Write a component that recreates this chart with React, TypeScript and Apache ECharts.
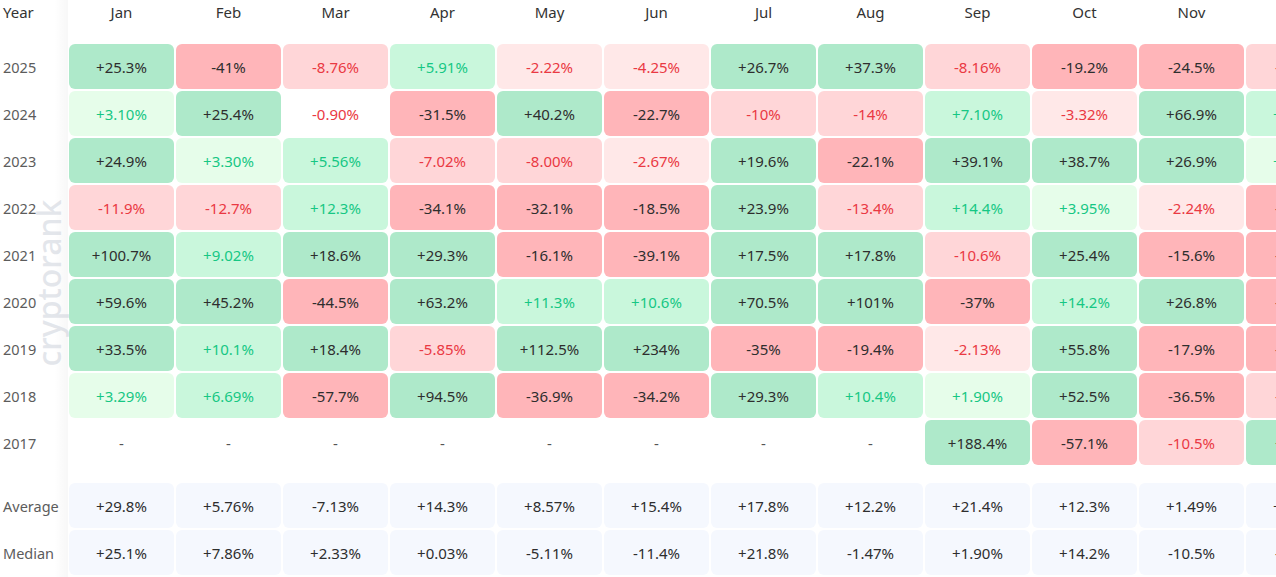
import React, { useEffect, useRef } from "react";
import * as echarts from "echarts";

const headerLabel = "Year";
const months = ["Jan", "Feb", "Mar", "Apr", "May", "Jun", "Jul", "Aug", "Sep", "Oct", "Nov", "Dec"];
const years = ["2025", "2024", "2023", "2022", "2021", "2020", "2019", "2018", "2017"];
const statLabels = ["Average", "Median"];

const r2025 = [25.3, -41, -8.76, 5.91, -2.22, -4.25, 26.7, 37.3, -8.16, -19.2, -24.5, -6.5];
const r2024 = [3.1, 25.4, -0.9, -31.5, 40.2, -22.7, -10, -14, 7.1, -3.32, 66.9, 9.6];
const r2023 = [24.9, 3.3, 5.56, -7.02, -8.0, -2.67, 19.6, -22.1, 39.1, 38.7, 26.9, 4.3];
const r2022 = [-11.9, -12.7, 12.3, -34.1, -32.1, -18.5, 23.9, -13.4, 14.4, 3.95, -2.24, -28.6];
const r2021 = [100.7, 9.02, 18.6, 29.3, -16.1, -39.1, 17.5, 17.8, -10.6, 25.4, -15.6, -20.5];
const r2020 = [59.6, 45.2, -44.5, 63.2, 11.3, 10.6, 70.5, 101, -37, 14.2, 26.8, -21.3];
const r2019 = [33.5, 10.1, 18.4, -5.85, 112.5, 234, -35, -19.4, -2.13, 55.8, -17.9, -24.1];
const r2018 = [3.29, 6.69, -57.7, 94.5, -36.9, -34.2, 29.3, 10.4, 1.9, 52.5, -36.5, -9.8];
const r2017 = [null, null, null, null, null, null, null, null, 188.4, -57.1, -10.5, 120];
const averages = [29.8, 5.76, -7.13, 14.3, 8.57, 15.4, 17.8, 12.2, 21.4, 12.3, 1.49, 2.57];
const medians = [25.1, 7.86, 2.33, 0.03, -5.11, -11.4, 21.8, -1.47, 1.9, 14.2, -10.5, -9.8];
const watermark = "cryptorank";

const yearRows = [r2025, r2024, r2023, r2022, r2021, r2020, r2019, r2018, r2017];
const statRows = [averages, medians];

const FONT = "'Noto Sans', 'Open Sans', sans-serif";
const FS = 15;
const GREEN_TXT = "#16c784";
const RED_TXT = "#ea3943";
const DARK_TXT = "#2e2e2e";

function fmt(v: number | null): string {
  if (v === null || v === undefined) return "-";
  const a = Math.abs(v);
  let s: string;
  if (Number.isInteger(v) && a >= 10) s = String(a);
  else if (a >= 100) s = a.toFixed(1);
  else if (a < 1) s = a.toFixed(2);
  else s = a.toPrecision(3);
  return (v >= 0 ? "+" : "-") + s + "%";
}

function cellStyle(v: number | null): { bg: string; fg: string } {
  if (v === null || v === undefined) return { bg: "rgba(0,0,0,0)", fg: "#555" };
  if (v >= 15) return { bg: "#aee9ca", fg: DARK_TXT };
  if (v >= 5) return { bg: "#c9f7dc", fg: GREEN_TXT };
  if (v >= 0) return { bg: "#e6fdea", fg: GREEN_TXT };
  if (v > -1) return { bg: "#ffffff", fg: RED_TXT };
  if (v > -5) return { bg: "#ffe8e8", fg: RED_TXT };
  if (v > -15) return { bg: "#ffd6d8", fg: RED_TXT };
  return { bg: "#ffb5b9", fg: DARK_TXT };
}

export default function App() {
  const ref = useRef<HTMLDivElement>(null);
  useEffect(() => {
    if (!ref.current) return;
    const chart = echarts.init(ref.current, null, { renderer: "svg" });

    const yearData: any[] = [];
    yearRows.forEach((row, ri) => row.forEach((v, ci) => yearData.push([ci, ri, v])));
    const statData: any[] = [];
    statRows.forEach((row, ri) => row.forEach((v, ci) => statData.push([ci, ri, v])));

    const makeRender = (isStat: boolean) => (params: any, api: any) => {
      const ci = api.value(0);
      const ri = api.value(1);
      const raw = isStat ? statRows[ri][ci] : yearRows[ri][ci];
      const c = api.coord([ci, ri]);
      const sz = api.size([1, 1]);
      const w = sz[0] - 2;
      const h = sz[1] - 2;
      const st = isStat ? { bg: "#f5f8fe", fg: DARK_TXT } : cellStyle(raw);
      return {
        type: "group",
        children: [
          {
            type: "rect",
            shape: { x: c[0] - w / 2, y: c[1] - h / 2, width: w, height: h, r: 6 },
            style: { fill: st.bg },
          },
          {
            type: "text",
            style: {
              text: fmt(raw),
              x: c[0],
              y: c[1],
              align: "center",
              verticalAlign: "middle",
              fill: st.fg,
              fontSize: FS,
              fontFamily: FONT,
            },
          },
        ],
      };
    };

    const gridLeft = 68;
    const gridWidth = 107 * 12;

    const yLabel = {
      align: "left",
      margin: 65,
      color: "#5c5c5c",
      fontSize: FS - 0.5,
      fontFamily: FONT,
    };

    chart.setOption({
      animation: false,
      backgroundColor: "#ffffff",
      grid: [
        { left: gridLeft, top: 43, width: gridWidth, height: 47 * 9 },
        { left: gridLeft, top: 482, width: gridWidth, height: 47 * 2 },
      ],
      xAxis: [
        {
          gridIndex: 0,
          type: "category",
          data: months,
          position: "top",
          axisLine: { show: false },
          axisTick: { show: false },
          splitLine: { show: false },
          axisLabel: {
            margin: 31,
            verticalAlign: "middle",
            color: "#333333",
            fontSize: FS,
            fontFamily: FONT,
          },
        },
        {
          gridIndex: 1,
          type: "category",
          data: months,
          show: false,
        },
      ],
      yAxis: [
        {
          gridIndex: 0,
          type: "category",
          data: years,
          inverse: true,
          axisLine: { show: false },
          axisTick: { show: false },
          splitLine: { show: false },
          axisLabel: yLabel,
        },
        {
          gridIndex: 1,
          type: "category",
          data: statLabels,
          inverse: true,
          axisLine: { show: false },
          axisTick: { show: false },
          splitLine: { show: false },
          axisLabel: yLabel,
        },
      ],
      graphic: [
        {
          type: "rect",
          silent: true,
          z: -1,
          shape: { x: 54, y: 0, width: 14, height: 577 },
          style: {
            fill: new echarts.graphic.LinearGradient(0, 0, 1, 0, [
              { offset: 0, color: "rgba(0,0,0,0)" },
              { offset: 1, color: "rgba(0,0,0,0.03)" },
            ]),
          },
        },
        {
          type: "text",
          x: 3,
          y: 12,
          style: {
            text: headerLabel,
            fill: "#333333",
            fontSize: FS,
            fontFamily: FONT,
            verticalAlign: "middle",
          },
        },
        {
          type: "text",
          x: 48,
          y: 283,
          rotation: Math.PI / 2,
          silent: true,
          style: {
            text: watermark,
            align: "center",
            verticalAlign: "middle",
            fill: "rgba(200,205,215,0.5)",
            fontSize: 32,
            fontWeight: 500,
            fontFamily: FONT,
          },
        },
      ],
      series: [
        {
          type: "custom",
          xAxisIndex: 0,
          yAxisIndex: 0,
          clip: false,
          data: yearData,
          renderItem: makeRender(false),
        },
        {
          type: "custom",
          xAxisIndex: 1,
          yAxisIndex: 1,
          clip: false,
          data: statData,
          renderItem: makeRender(true),
        },
      ],
    });
    return () => chart.dispose();
  }, []);
  return (
    <div
      style={{
        position: "fixed",
        left: 0,
        top: 0,
        width: "1276px",
        height: "577px",
        overflow: "hidden",
        background: "#fff",
      }}
    >
      <div ref={ref} style={{ width: "1360px", height: "577px" }} />
    </div>
  );
}
